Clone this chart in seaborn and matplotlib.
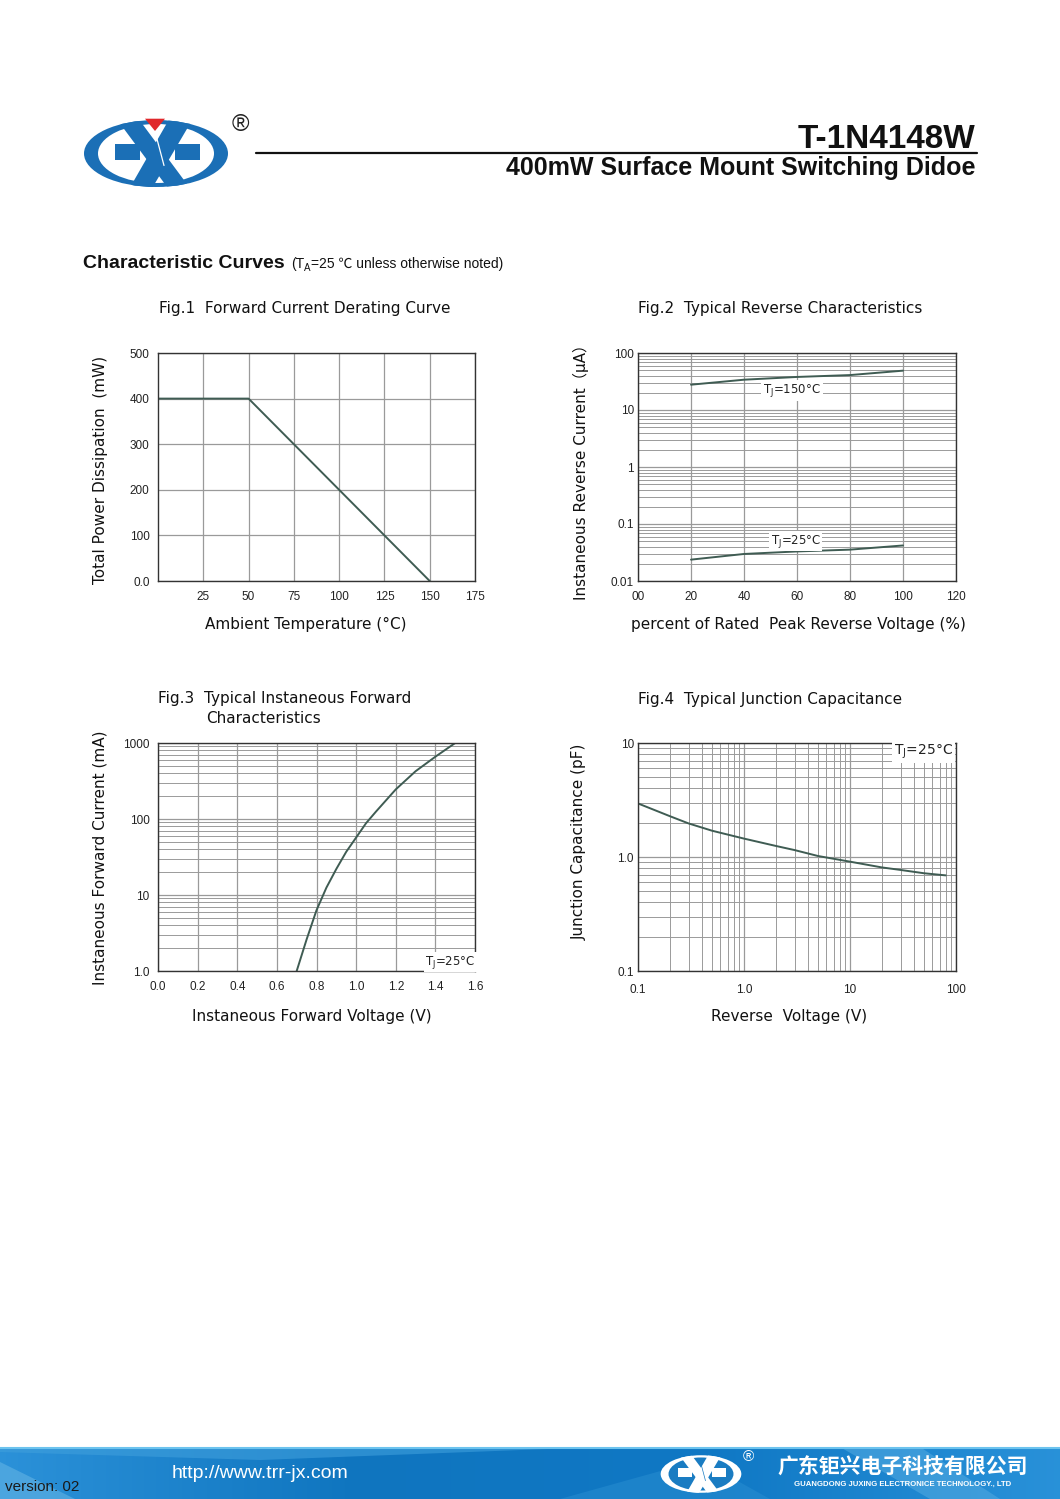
"""
T-1N4148W datasheet page: four characteristic curves with header and footer.
"""

import matplotlib.pyplot as plt
import numpy as np
import seaborn as sns
from matplotlib.patches import Ellipse, Polygon, Rectangle
from matplotlib.ticker import LogLocator, NullFormatter

# --- data ---

# Fig.1 derating curve
derate_temp = [0, 50, 150]
derate_power = [400, 400, 0]

# Fig.2 reverse current vs percent of rated voltage
rev_pct = [20, 40, 60, 80, 100]
rev_ir_150 = [27.8, 34, 38, 41, 49]
rev_ir_25 = [0.0237, 0.0298, 0.033, 0.0355, 0.042]

# Fig.3 forward characteristics
fwd_v = [0.70, 0.75, 0.80, 0.85, 0.90, 0.95, 1.00, 1.05, 1.10, 1.20, 1.30, 1.40, 1.50]
fwd_i = [1.0, 2.6, 6.3, 12.5, 22, 37, 57, 88, 125, 245, 425, 660, 1000]

# Fig.4 junction capacitance
cap_v = [0.1, 0.2, 0.3, 0.5, 1.0, 2.0, 3.0, 5.0, 10, 20, 30, 50, 80]
cap_c = [2.95, 2.28, 1.97, 1.70, 1.45, 1.25, 1.15, 1.02, 0.91, 0.81, 0.77, 0.72, 0.69]

W, H = 1060, 1499
LINE = "#3f5c53"
GRID = "#9a9a9a"
TICK_FONT = ["Liberation Sans", "DejaVu Sans"]
LABEL_FONT = ["DejaVu Sans"]

sns.set_style("white")
plt.rcParams["font.family"] = ["DejaVu Sans"]
plt.rcParams["mathtext.fontset"] = "dejavusans"

fig = plt.figure(figsize=(W / 100, H / 100), dpi=100)

# overlay in pixel coordinates for header/footer/labels
ov = fig.add_axes([0, 0, 1, 1])
ov.set_xlim(0, W)
ov.set_ylim(H, 0)
ov.axis("off")


def chart_axes(left, top, right, bottom):
    return fig.add_axes([left / W, 1 - bottom / H, (right - left) / W, (bottom - top) / H])


def draw_logo(cx, cy, s, color, inner, red=True):
    outer = Ellipse((cx, cy), 144 * s, 67 * s, facecolor=color, edgecolor="none", zorder=2)
    ov.add_patch(outer)
    ov.add_patch(Ellipse((cx, cy), 116 * s, 59 * s, facecolor=inner, edgecolor="none", zorder=3))
    bars = [(-41, -10, 25, 16), (19, -10, 25, 16)]
    for bx, by, bw, bh in bars:
        ov.add_patch(Rectangle((cx + bx * s, cy + by * s), bw * s, bh * s,
                               facecolor=color, edgecolor="none", zorder=4))
    bands = [
        [(-39, -34), (-17, -34), (33.5, 34), (11.5, 34)],
        [(13, -34), (36.5, -34), (-3.5, 34), (-26, 34)],
    ]
    for pts in bands:
        poly = Polygon([(cx + px * s, cy + py * s) for px, py in pts],
                       facecolor=color, edgecolor="none", zorder=5)
        ov.add_patch(poly)
        poly.set_clip_path(outer)
    # thin white seam through the crossing
    ov.plot([cx - 1 * s, cx + 8 * s], [cy - 22 * s, cy + 12 * s], color=inner, lw=0.9 * s,
            zorder=5.5)
    if red:
        ov.add_patch(Polygon([(cx - 11 * s, cy - 34.8 * s), (cx + 9 * s, cy - 34.8 * s),
                              (cx - 1 * s, cy - 22.5 * s)], facecolor="#e0282b",
                             edgecolor="none", zorder=6))


def style_axes(ax, xpad, ypad):
    ax.set_facecolor("white")
    for sp in ax.spines.values():
        sp.set_color("#333333")
        sp.set_linewidth(1.0)
        sp.set_visible(True)
    ax.tick_params(which="both", length=0, labelsize=8.5, colors="#222222")
    ax.tick_params(axis="x", pad=xpad)
    ax.tick_params(axis="y", pad=ypad)
    for lab in ax.get_xticklabels() + ax.get_yticklabels():
        lab.set_family(TICK_FONT)
    ax.set_xlabel(None)
    ax.set_ylabel(None)
    ax.set_axisbelow(True)


# --- header ---
draw_logo(156, 153.5, 1.0, "#1b6fb6", "white")
ov.text(240, 125, "®", fontsize=17, ha="center", va="center", color="#222222", family=TICK_FONT)
ov.plot([256, 977], [153, 153], color="#111111", lw=1.6)
ov.text(975, 148, "T-1N4148W", fontsize=24, fontweight="bold", ha="right", va="baseline",
        color="#111111", family=TICK_FONT)
ov.text(975, 175, "400mW Surface Mount Switching Didoe", fontsize=18, fontweight="bold",
        ha="right", va="baseline", color="#111111", family=TICK_FONT)
ov.text(83, 268, "Characteristic Curves", fontsize=14, fontweight="bold", ha="left",
        va="baseline", color="#111111", family=TICK_FONT)
t1 = ov.text(291, 268, "(T", fontsize=10, ha="left", va="baseline", color="#111111",
             family=TICK_FONT)
t2 = ov.annotate("A", xy=(1, 0), xycoords=t1, xytext=(0, -1.5), textcoords="offset points",
                 fontsize=7, ha="left", va="bottom", color="#111111", family=TICK_FONT)
ov.annotate("=25 ℃ unless otherwise noted)", xy=(1, 0), xycoords=t2, xytext=(0, 1.5),
            textcoords="offset points", fontsize=10, ha="left", va="bottom", color="#111111",
            family=["Liberation Sans", "Noto Sans CJK SC"])

# --- Fig.1 ---
ax1 = chart_axes(158, 353, 475, 581)
sns.lineplot(x=derate_temp, y=derate_power, ax=ax1, color=LINE, lw=1.4)
ax1.set_xlim(0, 175)
ax1.set_ylim(0, 500)
ax1.set_xticks([25, 50, 75, 100, 125, 150, 175])
ax1.set_yticks([0, 100, 200, 300, 400, 500])
ax1.set_yticklabels(["0.0", "100", "200", "300", "400", "500"])
ax1.grid(True, color=GRID, lw=0.9)
style_axes(ax1, 7, 6)

# --- Fig.2 ---
ax2 = chart_axes(638, 353, 956, 581)
sns.lineplot(x=rev_pct, y=rev_ir_150, ax=ax2, color=LINE, lw=1.4)
sns.lineplot(x=rev_pct, y=rev_ir_25, ax=ax2, color=LINE, lw=1.4)
ax2.set_yscale("log")
ax2.set_xlim(0, 120)
ax2.set_ylim(0.01, 100)
ax2.set_xticks([0, 20, 40, 60, 80, 100, 120])
ax2.set_xticklabels(["00", "20", "40", "60", "80", "100", "120"])
ax2.set_yticks([0.01, 0.1, 1, 10, 100])
ax2.set_yticklabels(["0.01", "0.1", "1", "10", "100"])
ax2.yaxis.set_minor_locator(LogLocator(base=10, subs=np.arange(2, 10)))
ax2.yaxis.set_minor_formatter(NullFormatter())
ax2.grid(True, which="major", color=GRID, lw=0.9)
ax2.grid(True, which="minor", axis="y", color=GRID, lw=0.7)
style_axes(ax2, 7, 3)
ax2.text(58, 22, "T$_\\mathrm{J}$=150°C", fontsize=8.5, ha="center", va="center", color="#222222",
         bbox=dict(facecolor="white", edgecolor="none", pad=1.5))
ax2.text(59.5, 0.05, "T$_\\mathrm{J}$=25°C", fontsize=8.5, ha="center", va="center", color="#222222",
         bbox=dict(facecolor="white", edgecolor="none", pad=1))

# --- Fig.3 ---
ax3 = chart_axes(158, 743, 475, 971)
sns.lineplot(x=fwd_v, y=fwd_i, ax=ax3, color=LINE, lw=1.4)
ax3.set_yscale("log")
ax3.set_xlim(0, 1.6)
ax3.set_ylim(1, 1000)
ax3.set_xticks([0, 0.2, 0.4, 0.6, 0.8, 1.0, 1.2, 1.4, 1.6])
ax3.set_xticklabels(["0.0", "0.2", "0.4", "0.6", "0.8", "1.0", "1.2", "1.4", "1.6"])
ax3.set_yticks([1, 10, 100, 1000])
ax3.set_yticklabels(["1.0", "10", "100", "1000"])
ax3.yaxis.set_minor_locator(LogLocator(base=10, subs=np.arange(2, 10)))
ax3.yaxis.set_minor_formatter(NullFormatter())
ax3.grid(True, which="major", color=GRID, lw=0.9)
ax3.grid(True, which="minor", axis="y", color=GRID, lw=0.7)
style_axes(ax3, 7.5, 6)
ax3.text(1.475, 1.3, "T$_\\mathrm{J}$=25°C", fontsize=8.5, ha="center", va="center", color="#222222",
         bbox=dict(facecolor="white", edgecolor="none", pad=1))

# --- Fig.4 ---
ax4 = chart_axes(638, 743, 956, 971)
sns.lineplot(x=cap_v, y=cap_c, ax=ax4, color=LINE, lw=1.4)
ax4.set_xscale("log")
ax4.set_yscale("log")
ax4.set_xlim(0.1, 100)
ax4.set_ylim(0.1, 10)
ax4.set_xticks([0.1, 1, 10, 100])
ax4.set_xticklabels(["0.1", "1.0", "10", "100"])
ax4.set_yticks([0.1, 1, 10])
ax4.set_yticklabels(["0.1", "1.0", "10"])
for axis in (ax4.xaxis, ax4.yaxis):
    axis.set_minor_locator(LogLocator(base=10, subs=np.arange(2, 10)))
    axis.set_minor_formatter(NullFormatter())
ax4.grid(True, which="major", color=GRID, lw=0.9)
ax4.grid(True, which="minor", color=GRID, lw=0.7)
style_axes(ax4, 9, 3)
ax4.text(49, 8.3, "T$_\\mathrm{J}$=25°C", fontsize=10, ha="center", va="center", color="#222222",
         bbox=dict(facecolor="white", edgecolor="none", pad=1.5))

# --- figure titles and axis labels ---
title_kw = dict(fontsize=11, ha="left", va="center", color="#111111", family=LABEL_FONT)
ov.text(159, 308, "Fig.1  Forward Current Derating Curve", **title_kw)
ov.text(638, 308, "Fig.2  Typical Reverse Characteristics", **title_kw)
ov.text(158, 698, "Fig.3  Typical Instaneous Forward", **title_kw)
ov.text(206, 718, "Characteristics", **title_kw)
ov.text(638, 699, "Fig.4  Typical Junction Capacitance", **title_kw)

lab_kw = dict(fontsize=11, ha="center", va="center", color="#111111", family=LABEL_FONT)
ov.text(306, 624, "Ambient Temperature (°C)", **lab_kw)
ov.text(798, 624, "percent of Rated  Peak Reverse Voltage (%)", **lab_kw)
ov.text(312, 1016, "Instaneous Forward Voltage (V)", **lab_kw)
ov.text(789, 1016, "Reverse  Voltage (V)", **lab_kw)
ov.text(100, 470, "Total Power Dissipation  (mW)", rotation=90, **lab_kw)
ov.text(581, 468, "Instaneous Reverse Current（μA）", rotation=90,
        **{**lab_kw, "family": ["DejaVu Sans", "Noto Sans CJK SC"]})
ov.text(100, 858, "Instaneous Forward Current (mA)", rotation=90, **lab_kw)
ov.text(579, 842, "Junction Capacitance (pF)", rotation=90, **lab_kw)

# --- footer band ---
stops = np.array([[0.17, 0.57, 0.85], [0.06, 0.46, 0.75], [0.06, 0.47, 0.77], [0.16, 0.57, 0.85]])
pos = np.linspace(0, 1, len(stops))
xs = np.linspace(0, 1, 400)
grad = np.stack([np.interp(xs, pos, stops[:, k]) for k in range(3)], axis=-1)[None, :, :]
ov.imshow(grad, extent=[0, W, H, 1447], aspect="auto", zorder=1)
ov.add_patch(Polygon([(0, 1462), (75, 1499), (0, 1499)], facecolor="#5aaee2", edgecolor="none",
                     alpha=0.7, zorder=1.5))
ov.add_patch(Polygon([(0, 1447), (600, 1447), (260, 1460), (0, 1452)], facecolor="#3f9fdc",
                     edgecolor="none", alpha=0.6, zorder=1.5))
ov.add_patch(Polygon([(840, 1447), (920, 1447), (1000, 1499), (930, 1499)], facecolor="#4fa8e0",
                     edgecolor="none", alpha=0.6, zorder=1.5))
ov.add_patch(Polygon([(560, 1499), (700, 1460), (770, 1499)], facecolor="#2a8fd2",
                     edgecolor="none", alpha=0.5, zorder=1.5))
ov.plot([0, W], [1447.5, 1447.5], color="#6cc3ee", lw=1.5, zorder=1.6)

draw_logo(701, 1474, 0.56, "white", "#1a7cc2", red=False)
ov.text(748, 1457, "®", fontsize=11, ha="center", va="center", color="white", family=TICK_FONT,
        zorder=7)
ov.text(5, 1487, "version: 02", fontsize=11, ha="left", va="center", color="#1a1a1a",
        family=TICK_FONT, zorder=7)
ov.text(172, 1474, "http://www.trr-jx.com", fontsize=14, ha="left", va="center", color="white",
        family=TICK_FONT, zorder=7)
ov.text(903, 1467, "广东钜兴电子科技有限公司", fontsize=15, fontweight="bold", ha="center",
        va="center", color="white", family=["Noto Sans CJK SC", "DejaVu Sans"], zorder=7)
ov.text(903, 1484, "GUANGDONG JUXING ELECTRONICE TECHNOLOGY., LTD", fontsize=5.6,
        fontweight="bold", ha="center", va="center", color="white", family=TICK_FONT, zorder=7)

fig.savefig("out.png", dpi=100, facecolor="white")
